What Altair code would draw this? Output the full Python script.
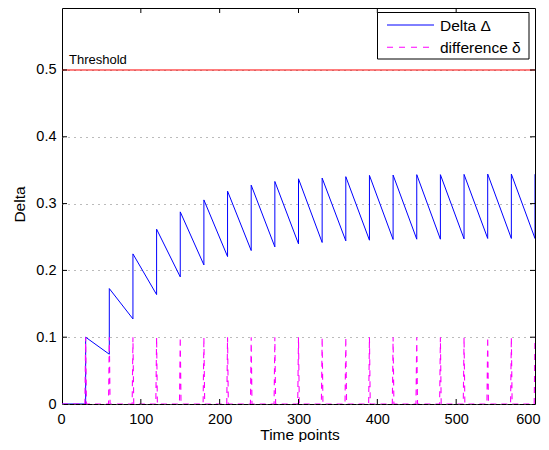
import altair as alt
import pandas as pd

# ---- data ----
jump_times = [30, 60, 90, 120, 150, 180, 210, 240, 270, 300,
              330, 360, 390, 420, 450, 480, 510, 540, 570, 600]
delta_before_jump = [0.0, 0.0745, 0.1274, 0.1638, 0.1903, 0.2082, 0.2207, 0.2297, 0.2352, 0.2397,
                     0.2418, 0.2442, 0.2452, 0.2463, 0.2467, 0.2467, 0.2472, 0.2478, 0.2478, 0.2478]
delta_after_jump = [0.1, 0.1728, 0.2247, 0.2617, 0.2876, 0.3055, 0.3186, 0.3276, 0.3331, 0.3371,
                    0.3382, 0.3403, 0.3422, 0.3427, 0.3433, 0.3433, 0.3437, 0.3442, 0.3442, 0.344]
spike_height = 0.1
threshold_value = 0.5
threshold_label = "Threshold"
x_ticks = [0, 100, 200, 300, 400, 500, 600]
y_ticks = [0, 0.1, 0.2, 0.3, 0.4, 0.5]
legend_labels = ["Delta \u0394", "difference \u03b4"]

FONT = "Liberation Sans"
W, H = 473, 396
YMAX = 0.5928

# ---- build tables ----
delta_rows = [{"t": 0, "v": 0.0, "i": 0}]
k = 1
for t, b, a in zip(jump_times, delta_before_jump, delta_after_jump):
    delta_rows.append({"t": t, "v": b, "i": k}); k += 1
    delta_rows.append({"t": t, "v": a, "i": k}); k += 1
delta_df = pd.DataFrame(delta_rows)

diff_rows = [{"t": 0, "v": 0.0, "i": 0}]
k = 1
for t in jump_times:
    diff_rows.append({"t": t - 1, "v": 0.0, "i": k}); k += 1
    diff_rows.append({"t": t, "v": spike_height, "i": k}); k += 1
    if t + 1 <= x_ticks[-1]:
        diff_rows.append({"t": t + 1, "v": 0.0, "i": k}); k += 1
diff_df = pd.DataFrame(diff_rows)

xs = alt.Scale(domain=[0, 600], nice=False, zero=False)
ys = alt.Scale(domain=[0, YMAX], nice=False, zero=False)

common = dict(labelFont=FONT, labelFontSize=14.5, labelColor="black",
              titleFont=FONT, titleFontSize=15.5, titleFontWeight="normal", titleColor="black")

x_axis = alt.Axis(values=x_ticks, ticks=False, domain=False, grid=False,
                  labelFlush=True, labelFlushOffset=5, labelPadding=8,
                  title="Time points", titleX=W / 2 + 1, titleY=35,
                  titleBaseline="alphabetic", titleAlign="center", **common)
y_axis = alt.Axis(values=y_ticks, format="~g", ticks=False, domain=False, grid=True,
                  gridDash=[1, 5], gridColor="#777777", gridWidth=1,
                  labelPadding=6, title="Delta", titleX=-43, titleY=H / 2 - 2,
                  titleAngle=270, titleBaseline="middle", titleAlign="center", **common)

base_axes = alt.Chart(pd.DataFrame({"t": [0], "v": [0.0]})).mark_point(opacity=0).encode(
    x=alt.X("t:Q", scale=xs, axis=x_axis),
    y=alt.Y("v:Q", scale=ys, axis=y_axis),
)

delta_line = alt.Chart(delta_df).mark_line(color="#0000ff", strokeWidth=1, clip=True).encode(
    x=alt.X("t:Q", scale=xs), y=alt.Y("v:Q", scale=ys), order="i:Q")

diff_line = alt.Chart(diff_df).mark_line(color="#ff00ff", strokeWidth=1.1, strokeDash=[6, 5],
                                          clip=True).encode(
    x=alt.X("t:Q", scale=xs), y=alt.Y("v:Q", scale=ys), order="i:Q")

thr_df = pd.DataFrame({"v": [threshold_value], "label": [threshold_label]})
thr_rule = alt.Chart(thr_df).mark_rule(color="#ff0000", strokeWidth=1).encode(
    y=alt.Y("v:Q", scale=ys))
thr_text = alt.Chart(thr_df).mark_text(align="left", baseline="alphabetic", dy=-6,
                                       font=FONT, fontSize=13, color="black").encode(
    x=alt.value(7), y=alt.Y("v:Q", scale=ys), text="label:N")

# inward tick marks
xt_df = pd.DataFrame({"t": x_ticks[1:-1]})
yt_df = pd.DataFrame({"v": y_ticks[1:]})
tick_bottom = alt.Chart(xt_df).mark_rule(color="black").encode(
    x=alt.X("t:Q", scale=xs), y=alt.value(H), y2=alt.value(H - 5))
tick_top = alt.Chart(xt_df).mark_rule(color="black").encode(
    x=alt.X("t:Q", scale=xs), y=alt.value(0), y2=alt.value(5))
tick_left = alt.Chart(yt_df).mark_rule(color="black").encode(
    y=alt.Y("v:Q", scale=ys), x=alt.value(0), x2=alt.value(5))
tick_right = alt.Chart(yt_df).mark_rule(color="black").encode(
    y=alt.Y("v:Q", scale=ys), x=alt.value(W), x2=alt.value(W - 5))

# legend (drawn manually)
leg_box = alt.Chart(pd.DataFrame({"a": [0]})).mark_rect(
    fill="white", stroke="black", strokeWidth=1).encode(
    x=alt.value(315.5), x2=alt.value(467), y=alt.value(4.5), y2=alt.value(51))
leg_blue = alt.Chart(pd.DataFrame({"a": [0]})).mark_rule(color="#0000ff", strokeWidth=1).encode(
    x=alt.value(325), x2=alt.value(372), y=alt.value(17))
leg_mag = alt.Chart(pd.DataFrame({"a": [0]})).mark_rule(color="#ff00ff", strokeWidth=1.1,
                                                         strokeDash=[6, 6]).encode(
    x=alt.value(325), x2=alt.value(372), y=alt.value(39.3))
leg_t1 = alt.Chart(pd.DataFrame({"label": [legend_labels[0]]})).mark_text(
    align="left", baseline="middle", font=FONT, fontSize=15.5, color="black").encode(
    x=alt.value(378), y=alt.value(17.5), text="label:N")
leg_t2 = alt.Chart(pd.DataFrame({"label": [legend_labels[1]]})).mark_text(
    align="left", baseline="middle", font=FONT, fontSize=15.5, color="black").encode(
    x=alt.value(378), y=alt.value(39.8), text="label:N")

chart = alt.layer(
    base_axes, thr_rule, thr_text, delta_line, diff_line,
    tick_bottom, tick_top, tick_left, tick_right,
    leg_box, leg_blue, leg_mag, leg_t1, leg_t2,
).properties(
    width=W, height=H,
    autosize=alt.AutoSizeParams(type="none"),
    padding={"left": 54, "top": 0, "right": 6, "bottom": 38},
    background="white",
).configure_view(
    stroke="black", strokeWidth=1, fill="white"
)

chart.save("out.html", embed_options={"renderer": "svg", "actions": False})
